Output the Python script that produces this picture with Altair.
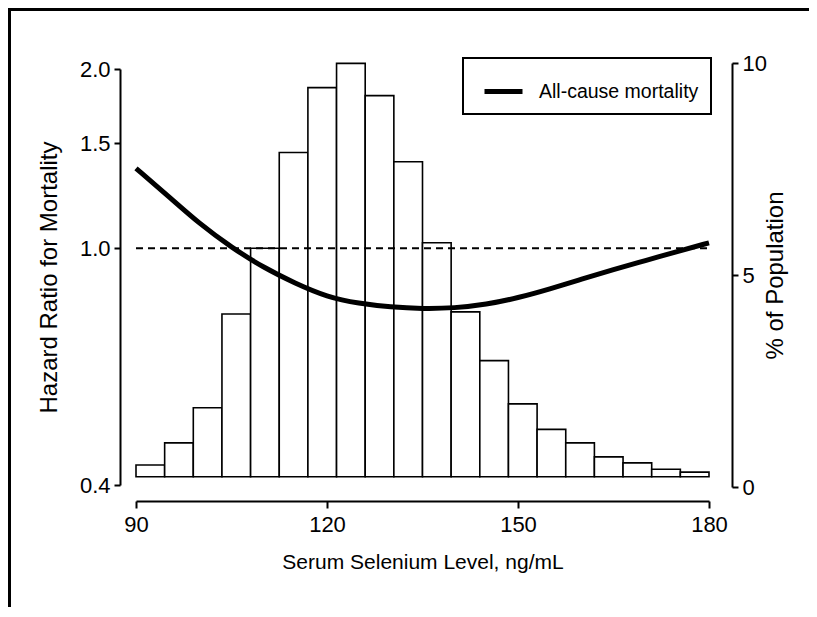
import altair as alt
import pandas as pd

# ---- data ----
bin_start = [90, 94.5, 99, 103.5, 108, 112.5, 117, 121.5, 126, 130.5,
             135, 139.5, 144, 148.5, 153, 157.5, 162, 166.5, 171, 175.5]
bin_end = [94.5, 99, 103.5, 108, 112.5, 117, 121.5, 126, 130.5, 135,
           139.5, 144, 148.5, 153, 157.5, 162, 166.5, 171, 175.5, 180]
pct_population = [0.52, 1.04, 1.87, 4.08, 5.63, 7.89, 9.42, 9.99, 9.23, 7.67,
                  5.76, 4.13, 2.98, 1.96, 1.36, 1.04, 0.71, 0.57, 0.42, 0.35]
bar_base = 0.24

curve_x = [90, 95, 100, 105, 110, 115, 120, 125, 130, 135, 140, 145, 150,
           155, 160, 165, 170, 175, 180]
curve_hr = [1.362, 1.225, 1.098, 1.003, 0.928, 0.873, 0.828, 0.807, 0.796,
            0.791, 0.793, 0.804, 0.825, 0.854, 0.887, 0.921, 0.953, 0.987, 1.021]
series_name = "All-cause mortality"

ref_x = [90, 180]
ref_hr = [1.0, 1.0]

x_ticks = [90, 120, 150, 180]
hr_ticks = [0.4, 1.0, 1.5, 2.0]
pct_ticks = [0, 5, 10]

FONT = "Liberation Sans"

bars_df = pd.DataFrame({"x": bin_start, "x2": bin_end, "pct": pct_population,
                        "base": [bar_base] * len(bin_start)})
curve_df = pd.DataFrame({"x": curve_x, "hr": curve_hr,
                         "series": [series_name] * len(curve_x)})
ref_df = pd.DataFrame({"x": ref_x, "hr": ref_hr})

x_scale = alt.Scale(domain=[90, 180], nice=False, zero=False)
x_axis = alt.Axis(values=x_ticks, orient="bottom", offset=14, tickSize=7,
                  labelPadding=6, titlePadding=16, labelFlush=False,
                  title="Serum Selenium Level, ng/mL")

hr_scale = alt.Scale(type="log", domain=[0.4, 2.0], range=[422, 6], nice=False)
hr_axis = alt.Axis(values=hr_ticks, format=".1f", orient="left", offset=16,
                   tickSize=6, labelPadding=4, titlePadding=18, titleFontSize=24,
                   title="Hazard Ratio for Mortality")

pct_scale = alt.Scale(domain=[0, 10], nice=False)
pct_axis = alt.Axis(values=pct_ticks, orient="right", offset=23, tickSize=6,
                    labelPadding=4, titlePadding=21, titleAngle=270, titleFontSize=24,
                    title="% of Population")

bars = alt.Chart(bars_df).mark_rect(fill="white", stroke="black", strokeWidth=1.6).encode(
    x=alt.X("x:Q", scale=x_scale, axis=x_axis),
    x2="x2:Q",
    y=alt.Y("pct:Q", scale=pct_scale, axis=pct_axis),
    y2="base:Q",
)

ref = alt.Chart(ref_df).mark_line(color="black", strokeWidth=2, strokeDash=[7, 5]).encode(
    x=alt.X("x:Q", scale=x_scale),
    y=alt.Y("hr:Q", scale=hr_scale, axis=hr_axis),
)

curve = alt.Chart(curve_df).mark_line(strokeWidth=5, interpolate="basis").encode(
    x=alt.X("x:Q", scale=x_scale),
    y=alt.Y("hr:Q", scale=hr_scale, axis=hr_axis),
    stroke=alt.Stroke("series:N", scale=alt.Scale(range=["black"]),
                      legend=alt.Legend(title=None, orient="none", legendX=327, legendY=-5,
                                        padding=12, symbolOffset=7, labelOffset=14,
                                        symbolType="stroke", symbolStrokeWidth=5,
                                        symbolSize=1444, symbolStrokeColor="black",
                                        strokeColor="black", fillColor="white",
                                        labelFont=FONT, labelFontSize=19.5,
                                        labelColor="black", labelLimit=400)),
)

frame_left = alt.Chart(bars_df).mark_rule(color="black", strokeWidth=2.5).encode(
    x=alt.value(-127), y=alt.value(-54), y2=alt.value(600))
frame_top = alt.Chart(bars_df).mark_rule(color="black", strokeWidth=2.5).encode(
    x=alt.value(-128), x2=alt.value(700), y=alt.value(-54))

hr_layer = alt.layer(ref, curve)

chart = alt.layer(bars, hr_layer, frame_left, frame_top).resolve_scale(
    y="independent"
).properties(
    width=573, height=424,
    autosize=alt.AutoSizeParams(type="none"),
    padding={"left": 128, "top": 55, "right": 100, "bottom": 120},
).configure(font=FONT).configure_view(stroke=None).configure_axis(
    grid=False, domainColor="black", domainWidth=2, tickColor="black", tickWidth=2,
    labelColor="black", titleColor="black", labelFont=FONT, titleFont=FONT,
    labelFontSize=22, titleFontSize=21, titleFontWeight="normal",
).configure_legend(strokeWidth=2)

chart.save("out.html", embed_options={"renderer": "svg", "actions": False})
